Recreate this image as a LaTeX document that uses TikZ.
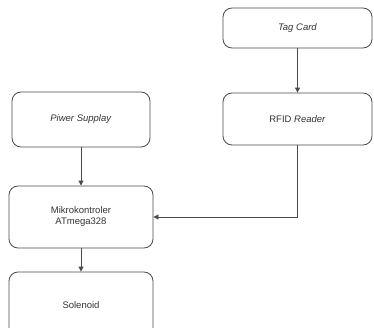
\documentclass[tikz,border=0pt]{standalone}
\usepackage{fontspec}
\setmainfont{Liberation Sans}
\usetikzlibrary{arrows.meta}
\definecolor{edge}{HTML}{4A4A4A}
\tikzset{
  blk/.style={draw=edge, line width=0.85pt, rounded corners=9pt, align=center,
    inner sep=0pt, font=\fontsize{9.5}{11}\selectfont, text=black!80},
  link/.style={draw=edge, line width=0.85pt, -{Triangle[length=5pt,width=5pt]}}
}
\begin{document}
\begin{tikzpicture}[x=1pt,y=-1pt]
\clip (0,0) rectangle (374,327);
\node[blk, minimum width=149pt, minimum height=40pt] (tag) at (297.5,28) {\textit{Tag Card}};
\node[blk, minimum width=149pt, minimum height=52pt] (rfid) at (297.5,119) {RFID \textit{Reader}};
\node[blk, minimum width=138pt, minimum height=55pt] (pwr) at (81,119.5) {\textit{Piwer Supplay}};
\node[blk, minimum width=144pt, minimum height=62pt] (mcu) at (81,217) {Mikrokontroler\\ATmega328};
\node[blk, minimum width=144pt, minimum height=66pt] (sol) at (81,305) {Solenoid};
\draw[link] (tag.south) -- (rfid.north);
\draw[link] (pwr.south -| mcu) -- (mcu.north);
\draw[link] (mcu.south) -- (sol.north);
\draw[link] (rfid.south) |- (mcu.east);
\end{tikzpicture}
\end{document}
